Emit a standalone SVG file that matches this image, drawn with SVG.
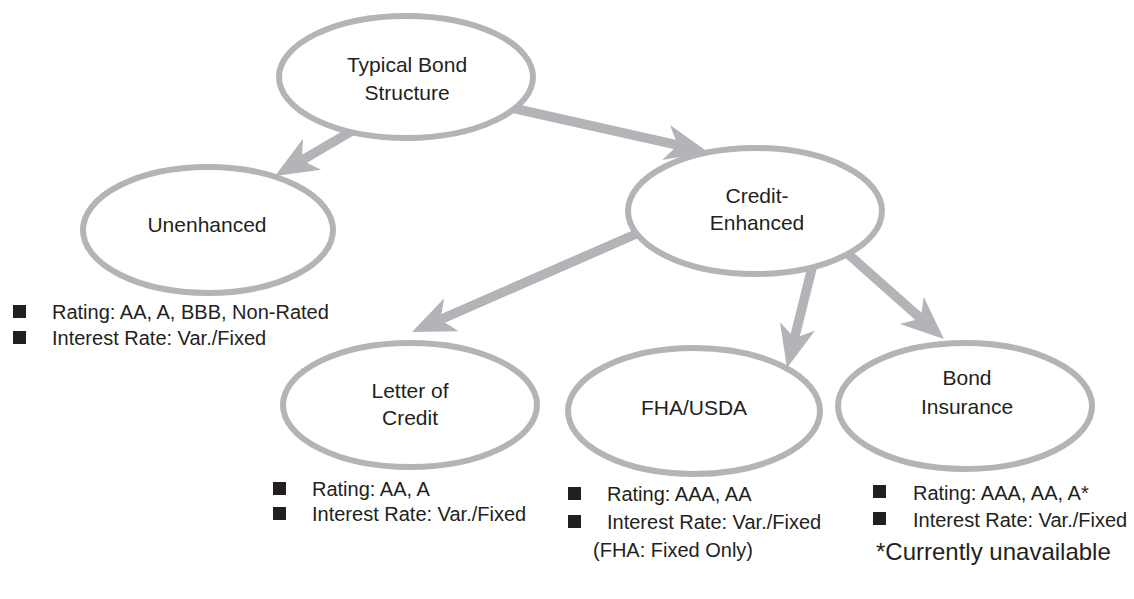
<svg xmlns="http://www.w3.org/2000/svg" width="1134" height="599" viewBox="0 0 1134 599">
<style>
.node ellipse{fill:#fff;stroke:#b3b4b7;stroke-width:6}
.lbl{font-family:"Liberation Sans",Arial,sans-serif;font-size:21px;fill:#231f20;text-anchor:middle}
.bl{font-family:"Liberation Sans",Arial,sans-serif;font-size:20px;fill:#231f20}
.note{font-family:"Liberation Sans",Arial,sans-serif;font-size:24px;fill:#231f20}
.sq{fill:#231f20}
.conn line{stroke:#b3b4b7;stroke-width:9.5;fill:none;marker-end:url(#ah)}
</style>
<defs>
<marker id="ah" markerUnits="userSpaceOnUse" viewBox="-48 -22 50 44" markerWidth="50" markerHeight="44" refX="-24" refY="0" orient="auto">
<path d="M0,0 L-43,-18 L-31,0 L-43,18 Z" fill="#b3b4b7"/>
</marker>
</defs>
<rect width="1134" height="599" fill="#fff"/>
<g id="connectors" class="conn">
<line x1="352" y1="131" x2="295.7" y2="163.9"/>
<line x1="512" y1="108" x2="684.6" y2="146.7"/>
<line x1="636" y1="234" x2="434" y2="322.4"/>
<line x1="812" y1="268" x2="792.8" y2="344.7"/>
<line x1="848" y1="254" x2="926" y2="323.1"/>
</g>
<g id="typical" class="node">
<ellipse cx="406" cy="77" rx="127" ry="61"/>
<text class="lbl" x="407" y="72">Typical Bond</text>
<text class="lbl" x="407" y="100">Structure</text>
</g>
<g id="unenhanced" class="node">
<ellipse cx="208" cy="230" rx="125" ry="63"/>
<text class="lbl" x="207" y="232">Unenhanced</text>
</g>
<g id="credit" class="node">
<ellipse cx="755" cy="211" rx="127" ry="63"/>
<text class="lbl" x="757" y="203">Credit-</text>
<text class="lbl" x="757" y="230">Enhanced</text>
</g>
<g id="loc" class="node">
<ellipse cx="410" cy="405" rx="127" ry="62"/>
<text class="lbl" x="410" y="398">Letter of</text>
<text class="lbl" x="410" y="425">Credit</text>
</g>
<g id="fha" class="node">
<ellipse cx="694" cy="411" rx="126" ry="63"/>
<text class="lbl" x="694" y="415">FHA/USDA</text>
</g>
<g id="bond" class="node">
<ellipse cx="965" cy="406" rx="127" ry="63"/>
<text class="lbl" x="967" y="385">Bond</text>
<text class="lbl" x="967" y="414">Insurance</text>
</g>
<g id="unenhanced-notes">
<rect class="sq" x="13" y="305" width="13" height="13"/>
<text class="bl" x="52" y="319">Rating: AA, A, BBB, Non-Rated</text>
<rect class="sq" x="13" y="331" width="13" height="13"/>
<text class="bl" x="52" y="345">Interest Rate: Var./Fixed</text>
</g>
<g id="loc-notes">
<rect class="sq" x="273" y="482" width="13" height="13"/>
<text class="bl" x="312" y="496">Rating: AA, A</text>
<rect class="sq" x="273" y="507" width="13" height="13"/>
<text class="bl" x="312" y="521">Interest Rate: Var./Fixed</text>
</g>
<g id="fha-notes">
<rect class="sq" x="568" y="487" width="13" height="13"/>
<text class="bl" x="607" y="501">Rating: AAA, AA</text>
<rect class="sq" x="568" y="515" width="13" height="13"/>
<text class="bl" x="607" y="529">Interest Rate: Var./Fixed</text>
<text class="bl" x="593" y="557">(FHA: Fixed Only)</text>
</g>
<g id="bond-notes">
<rect class="sq" x="873" y="485" width="13" height="13"/>
<text class="bl" x="913" y="500">Rating: AAA, AA, A*</text>
<rect class="sq" x="873" y="512" width="13" height="13"/>
<text class="bl" x="913" y="527">Interest Rate: Var./Fixed</text>
<text class="note" x="876" y="560">*Currently unavailable</text>
</g>
</svg>
